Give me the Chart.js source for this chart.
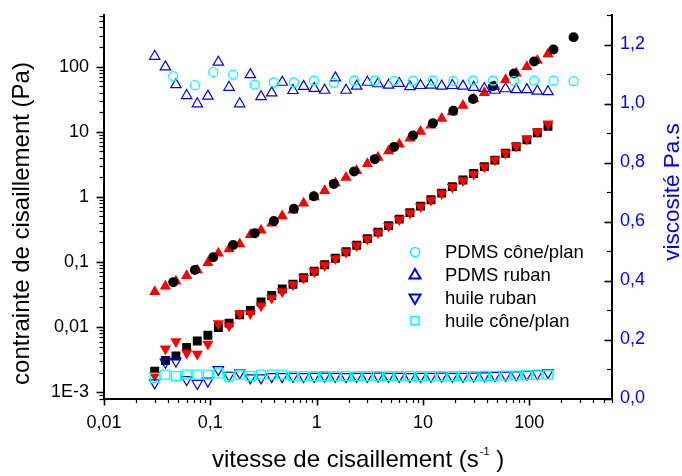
<!DOCTYPE html>
<html>
<head>
<meta charset="utf-8">
<script src="https://cdn.jsdelivr.net/npm/chart.js@4.4.1/dist/chart.umd.min.js"></script>
<style>
  html, body { margin: 0; padding: 0; background: #fff; }
  canvas { display: block; }
</style>
</head>
<body>
<canvas id="rheoChart" width="682" height="476"></canvas>
<script>
// shear rates (s-1) of the ruban / oil sweeps, and of the PDMS cone/plan sweep
const shearRate = [0.03, 0.0378, 0.0475, 0.0599, 0.0754, 0.0949, 0.119, 0.15, 0.189, 0.238,
  0.3, 0.378, 0.475, 0.599, 0.754, 0.949, 1.19, 1.5, 1.89, 2.38,
  3.0, 3.78, 4.75, 5.99, 7.54, 9.49, 11.9, 15.0, 18.9, 23.8,
  30.0, 37.8, 47.5, 59.9, 75.4, 94.9, 119, 150];
const shearRateCone = [0.0448, 0.0716, 0.1065, 0.164, 0.262, 0.396, 0.611, 0.942, 1.45, 2.25,
  3.52, 5.35, 8.07, 12.4, 19.3, 29.6, 45.6, 71.8, 111, 169, 261];

// shear stress (Pa), left axis
const stressPdmsCone = [0.049, 0.075, 0.118, 0.182, 0.277, 0.425, 0.658, 1.02, 1.58, 2.45,
  3.79, 5.85, 8.75, 13.5, 20.9, 31.9, 50, 78.5, 120, 183, 282];
const stressPdmsRuban = [0.0348, 0.0425, 0.0505, 0.0615, 0.0753, 0.0973, 0.136, 0.158, 0.189, 0.261,
  0.307, 0.392, 0.509, 0.625, 0.798, 0.997, 1.24, 1.63, 1.98, 2.52,
  3.22, 4.03, 5.04, 6.40, 7.97, 10.1, 12.6, 15.9, 20.1, 25.2,
  31.7, 39.7, 49.6, 62.9, 78.9, 99.4, 124, 156];
const stressHuileCone = [0.0021, 0.00306, 0.0036, 0.00485, 0.0061, 0.0075, 0.0098, 0.0115, 0.0155, 0.018,
  0.0243, 0.0306, 0.0385, 0.0455, 0.0573, 0.0721, 0.0904, 0.114, 0.1436, 0.181,
  0.228, 0.287, 0.361, 0.455, 0.573, 0.721, 0.904, 1.14, 1.436, 1.81,
  2.28, 2.91, 3.66, 4.67, 5.88, 7.5, 9.64, 12.15];
const stressHuileRuban = [0.0018, 0.00465, 0.006, 0.0040, 0.00385, 0.0055, 0.0113, 0.0105, 0.016, 0.0162,
  0.0213, 0.028, 0.0352, 0.0449, 0.0566, 0.0712, 0.0893, 0.1125, 0.142, 0.1785,
  0.225, 0.2835, 0.356, 0.449, 0.566, 0.712, 0.893, 1.125, 1.42, 1.785,
  2.25, 2.91, 3.71, 4.73, 6.03, 7.78, 10.0, 13.2];

// viscosity (Pa.s), right axis
const viscPdmsCone = [1.093, 1.062, 1.107, 1.098, 1.064, 1.072, 1.072, 1.078, 1.070, 1.078,
  1.078, 1.077, 1.078, 1.078, 1.077, 1.078, 1.078, 1.077, 1.078, 1.078, 1.076];
const viscPdmsRuban = [1.160, 1.124, 1.064, 1.027, 0.999, 1.025, 1.140, 1.055, 0.999, 1.098,
  1.023, 1.036, 1.072, 1.044, 1.058, 1.051, 1.045, 1.087, 1.045, 1.059,
  1.072, 1.067, 1.062, 1.068, 1.057, 1.061, 1.062, 1.059, 1.061, 1.059,
  1.055, 1.051, 1.045, 1.050, 1.047, 1.047, 1.042, 1.040];
const viscHuileRuban = [0.053, 0.123, 0.127, 0.064, 0.051, 0.059, 0.098, 0.078, 0.087, 0.070,
  0.070, 0.074, 0.074, 0.075, 0.074, 0.075, 0.076, 0.075, 0.074, 0.075,
  0.075, 0.076, 0.075, 0.075, 0.074, 0.075, 0.075, 0.076, 0.075, 0.075,
  0.076, 0.077, 0.078, 0.079, 0.080, 0.082, 0.084, 0.088];
const viscHuileCone = [0.070, 0.081, 0.076, 0.081, 0.081, 0.081, 0.085, 0.076, 0.081, 0.076,
  0.081, 0.081, 0.081, 0.076, 0.076, 0.076, 0.076, 0.076, 0.076, 0.076,
  0.076, 0.076, 0.076, 0.076, 0.076, 0.076, 0.076, 0.076, 0.076, 0.076,
  0.076, 0.077, 0.077, 0.078, 0.078, 0.079, 0.081, 0.081];

// axis ticks and labels
const xTicks = [0.01, 0.1, 1, 10, 100];
const xTickLabels = ["0,01", "0,1", "1", "10", "100"];
const yTicks = [0.001, 0.01, 0.1, 1, 10, 100];
const yTickLabels = ["1E-3", "0,01", "0,1", "1", "10", "100"];
const y2Ticks = [0, 0.2, 0.4, 0.6, 0.8, 1.0, 1.2];
const y2TickLabels = ["0,0", "0,2", "0,4", "0,6", "0,8", "1,0", "1,2"];

const legendLabels = ["PDMS cône/plan", "PDMS ruban", "huile ruban", "huile cône/plan"];
const xTitle = "vitesse de cisaillement (s";
const yTitle = "contrainte de cisaillement (Pa)";
const y2Title = "viscosité Pa.s";

const FONT = '"Liberation Sans", Arial, sans-serif';
const BLUE = "#0000ff";
const CYAN = "#00ffff";

function pairs(xs, ys) {
  return xs.map((x, i) => ({ x: x, y: ys[i] }));
}

// Origin-like tick marks: majors and minors, drawn through the scales
const axisTicks = {
  id: "axisTicks",
  afterDraw(chart) {
    const ctx = chart.ctx;
    const { x, y, y2 } = chart.scales;
    ctx.save();
    ctx.strokeStyle = "#000";
    const seg = (x1, y1, x2, y2_, w) => {
      ctx.lineWidth = w;
      ctx.beginPath();
      ctx.moveTo(x1, y1);
      ctx.lineTo(x2, y2_);
      ctx.stroke();
    };
    for (let e = -2; e <= 2; e++) {
      for (let m = 1; m <= 9; m++) {
        const v = m * Math.pow(10, e);
        if (v > x.max * 1.001) break;
        const px = Math.round(x.getPixelForValue(v)) + 0.5;
        seg(px, x.top, px, x.top + (m === 1 ? 7 : 4.5), m === 1 ? 1.6 : 1.2);
      }
    }
    for (let e = -4; e <= 2; e++) {
      for (let m = 1; m <= 9; m++) {
        const v = m * Math.pow(10, e);
        if (v < y.min * 0.999 || v > y.max * 1.001) continue;
        const py = Math.round(y.getPixelForValue(v)) + 0.5;
        seg(y.right - (m === 1 ? 7.5 : 4.5), py, y.right, py, m === 1 ? 1.6 : 1.2);
      }
    }
    for (let i = 0; i <= 13; i++) {
      const py = Math.round(y2.getPixelForValue(i / 10)) + 0.5;
      seg(y2.left - (i % 2 === 0 ? 7.5 : 5), py, y2.left, py, i % 2 === 0 ? 1.6 : 1.2);
    }
    ctx.restore();
  }
};

// axis titles (the x title carries a superscript)
const axisTitles = {
  id: "axisTitles",
  afterDraw(chart) {
    const ctx = chart.ctx;
    ctx.save();
    ctx.fillStyle = "#000";
    ctx.textBaseline = "alphabetic";

    ctx.font = "24px " + FONT;
    ctx.save();
    ctx.translate(29, 223.5);
    ctx.rotate(-Math.PI / 2);
    ctx.textAlign = "center";
    ctx.fillText(yTitle, 0, 0);
    ctx.restore();

    ctx.save();
    ctx.fillStyle = BLUE;
    ctx.font = "22.5px " + FONT;
    ctx.translate(679, 192);
    ctx.rotate(-Math.PI / 2);
    ctx.textAlign = "center";
    ctx.fillText(y2Title, 0, 0);
    ctx.restore();

    ctx.textAlign = "left";
    let tx = 212;
    const base = 467;
    ctx.font = "24px " + FONT;
    ctx.fillText(xTitle, tx, base);
    tx += ctx.measureText(xTitle).width + 1;
    ctx.font = "11px " + FONT;
    ctx.fillText("-1", tx, base - 12);
    tx += ctx.measureText("-1").width;
    ctx.font = "24px " + FONT;
    ctx.fillText(" )", tx, base);
    ctx.restore();
  }
};

// legend inside the plot
const innerLegend = {
  id: "innerLegend",
  afterDraw(chart) {
    const ctx = chart.ctx;
    const mx = 415, tx = 445;
    const rows = [252, 275, 298, 320.5];
    ctx.save();
    ctx.lineWidth = 1.5;
    // open circle
    ctx.strokeStyle = CYAN;
    ctx.beginPath();
    ctx.arc(mx, rows[0], 4.5, 0, Math.PI * 2);
    ctx.stroke();
    // open triangle up
    ctx.strokeStyle = BLUE;
    ctx.lineWidth = 2;
    ctx.beginPath();
    ctx.moveTo(mx, rows[1] - 6);
    ctx.lineTo(mx + 5.5, rows[1] + 3.5);
    ctx.lineTo(mx - 5.5, rows[1] + 3.5);
    ctx.closePath();
    ctx.stroke();
    // open triangle down
    ctx.beginPath();
    ctx.moveTo(mx, rows[2] + 6);
    ctx.lineTo(mx + 5.5, rows[2] - 3.5);
    ctx.lineTo(mx - 5.5, rows[2] - 3.5);
    ctx.closePath();
    ctx.stroke();
    // open square
    ctx.strokeStyle = CYAN;
    ctx.lineWidth = 1.5;
    ctx.strokeRect(mx - 4, rows[3] - 4, 8, 8);

    ctx.fillStyle = "#000";
    ctx.font = "18.5px " + FONT;
    ctx.textAlign = "left";
    ctx.textBaseline = "middle";
    legendLabels.forEach((t, i) => ctx.fillText(t, tx, rows[i] + 1));
    ctx.restore();
  }
};

const ctx = document.getElementById("rheoChart");
Chart.defaults.font.family = FONT;

const config = {
  type: "scatter",
  data: {
    datasets: [
      {
        label: "PDMS cône/plan viscosité",
        data: pairs(shearRateCone, viscPdmsCone),
        yAxisID: "y2",
        pointStyle: "circle",
        pointRadius: 4.5,
        pointBorderWidth: 1.3,
        pointBorderColor: CYAN,
        pointBackgroundColor: "rgba(0,0,0,0)",
        order: 1,
      },
      {
        label: "PDMS ruban viscosité",
        data: pairs(shearRate, viscPdmsRuban),
        yAxisID: "y2",
        pointStyle: "triangle",
        pointRadius: 6,
        pointBorderWidth: 1.2,
        pointBorderColor: BLUE,
        pointBackgroundColor: "rgba(0,0,0,0)",
        order: 2,
      },
      {
        label: "huile cône/plan viscosité",
        data: pairs(shearRate, viscHuileCone),
        yAxisID: "y2",
        pointStyle: "rect",
        pointRadius: 6.3,
        pointBorderWidth: 1.3,
        pointBorderColor: CYAN,
        pointBackgroundColor: "rgba(0,0,0,0)",
        order: 3,
      },
      {
        label: "huile ruban viscosité",
        data: pairs(shearRate, viscHuileRuban),
        yAxisID: "y2",
        pointStyle: "triangle",
        pointRotation: 180,
        pointRadius: 6,
        pointBorderWidth: 1.2,
        pointBorderColor: BLUE,
        pointBackgroundColor: "rgba(0,0,0,0)",
        order: 4,
      },
      {
        label: "PDMS cône/plan contrainte",
        data: pairs(shearRateCone, stressPdmsCone),
        yAxisID: "y",
        pointStyle: "circle",
        pointRadius: 5,
        pointBorderWidth: 0,
        pointBackgroundColor: "#000",
        order: 5,
      },
      {
        label: "PDMS ruban contrainte",
        data: pairs(shearRate, stressPdmsRuban),
        yAxisID: "y",
        pointStyle: "triangle",
        pointRadius: 6.5,
        pointBorderWidth: 0,
        pointBackgroundColor: "#ff0000",
        order: 6,
      },
      {
        label: "huile ruban contrainte",
        data: pairs(shearRate, stressHuileRuban),
        yAxisID: "y",
        pointStyle: "triangle",
        pointRotation: 180,
        pointRadius: 6.5,
        pointBorderWidth: 0,
        pointBackgroundColor: "#ff0000",
        order: 7,
      },
      {
        label: "huile cône/plan contrainte",
        data: pairs(shearRate, stressHuileCone),
        yAxisID: "y",
        pointStyle: "rect",
        pointRadius: 6.3,
        pointBorderWidth: 0,
        pointBackgroundColor: "#000",
        order: 8,
      },
    ],
  },
  options: {
    responsive: false,
    animation: false,
    devicePixelRatio: 1,
    events: [],
    layout: { padding: { top: 15, left: 0, right: 0, bottom: 0 } },
    plugins: {
      legend: { display: false },
      tooltip: { enabled: false },
    },
    scales: {
      x: {
        type: "logarithmic",
        position: "bottom",
        min: 0.01,
        max: 600,
        afterBuildTicks: (s) => { s.ticks = xTicks.map((v) => ({ value: v })); },
        afterFit: (s) => { s.height = 77.5; s.paddingLeft = 0; s.paddingRight = 0; },
        ticks: {
          callback: (v, i) => xTickLabels[i],
          color: "#000",
          font: { size: 18 },
          padding: 14,
          maxRotation: 0,
          autoSkip: false,
        },
        grid: { display: false, drawTicks: false },
        border: { display: true, width: 2, color: "#000" },
      },
      y: {
        type: "logarithmic",
        position: "left",
        min: 0.0008,
        max: 620,
        afterBuildTicks: (s) => { s.ticks = yTicks.map((v) => ({ value: v })); },
        afterFit: (s) => { s.width = 104; s.paddingTop = 0; s.paddingBottom = 0; },
        ticks: {
          callback: (v, i) => yTickLabels[i],
          color: "#000",
          font: { size: 18 },
          padding: 15,
          autoSkip: false,
        },
        grid: { display: false, drawTicks: false },
        border: { display: true, width: 2, color: "#000" },
      },
      y2: {
        type: "linear",
        position: "right",
        min: 0,
        max: 1.3,
        afterBuildTicks: (s) => { s.ticks = y2Ticks.map((v) => ({ value: v })); },
        afterFit: (s) => { s.width = 70; s.paddingTop = 0; s.paddingBottom = 0; },
        ticks: {
          callback: (v, i) => y2TickLabels[i],
          color: BLUE,
          font: { size: 18 },
          padding: 8,
          autoSkip: false,
        },
        grid: { display: false, drawTicks: false },
        border: { display: true, width: 2, color: "#000" },
      },
    },
  },
  plugins: [axisTicks, axisTitles, innerLegend],
};

new Chart(ctx, config);
</script>
</body>
</html>
